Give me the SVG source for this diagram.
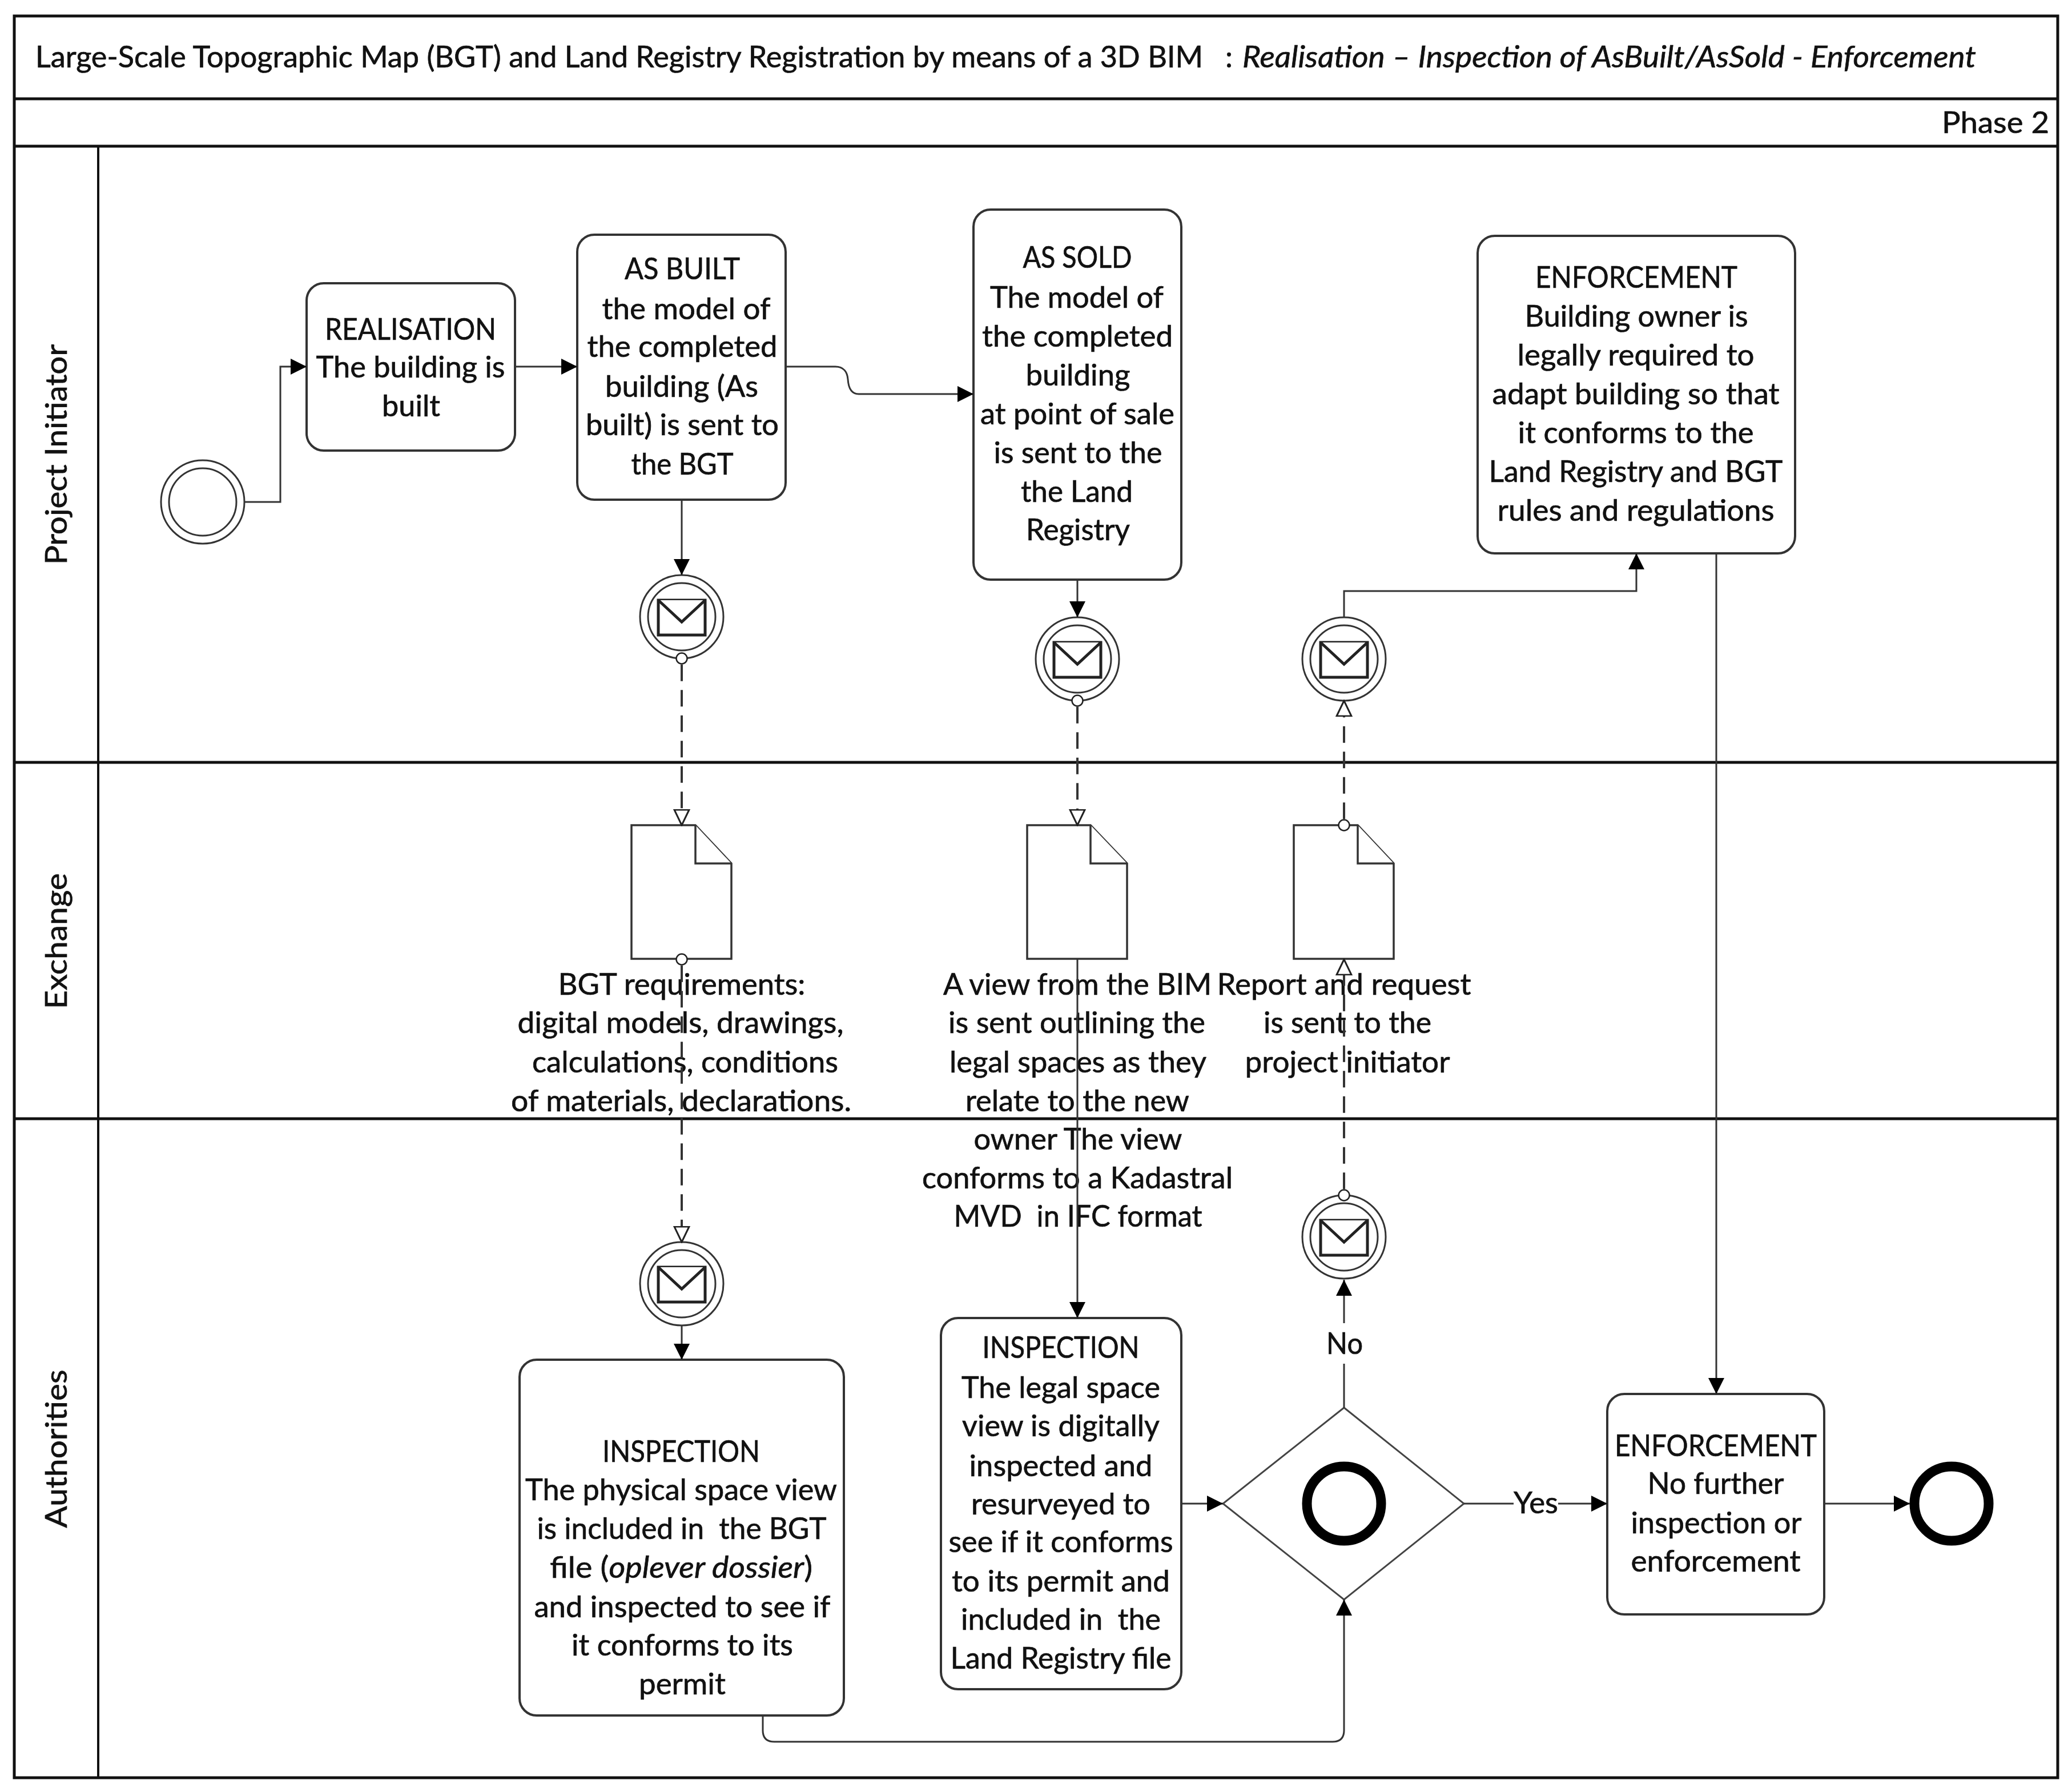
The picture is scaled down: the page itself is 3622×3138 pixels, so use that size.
<svg xmlns="http://www.w3.org/2000/svg" width="3622" height="3138" viewBox="0 0 3622 3138">
<style>
text{font-family:"Lato","Carlito","Open Sans",sans-serif;font-size:52px;fill:#111;stroke:#111;stroke-width:.7;text-anchor:middle}
.s{text-anchor:start}
.lane{fill:none;stroke:#111;stroke-width:5}
.thin{fill:none;stroke:#111;stroke-width:4}
.task{fill:#fff;stroke:#333;stroke-width:4}
.ev{fill:#fff;stroke:#333;stroke-width:3}
.end{fill:#fff;stroke:#000;stroke-width:17}
.gw{fill:#fff;stroke:#444;stroke-width:3}
.doc{fill:#fff;stroke:#333;stroke-width:3.5}
.env{fill:#fff;stroke:#222;stroke-width:5}
.c{fill:none;stroke:#333;stroke-width:3}
.d{fill:none;stroke:#333;stroke-width:4;stroke-dasharray:29 15.5;stroke-dashoffset:-10.7}
</style>
<defs>
<marker id="a" markerUnits="userSpaceOnUse" markerWidth="30" markerHeight="30" refX="28" refY="15" orient="auto"><path d="M0 1L28 15L0 29Z" fill="#000"/></marker>
<marker id="h" markerUnits="userSpaceOnUse" markerWidth="30" markerHeight="30" refX="28" refY="15" orient="auto"><path d="M1 2L28 15L1 28Z" fill="#fff" stroke="#222" stroke-width="3"/></marker>
<marker id="o" markerUnits="userSpaceOnUse" markerWidth="24" markerHeight="24" refX="12" refY="12" orient="auto"><circle cx="12" cy="12" r="9.5" fill="#fff" stroke="#222" stroke-width="2.5"/></marker>
<symbol id="env" overflow="visible"><rect class="env" x="-41" y="-29" width="82" height="61"/><path class="env" d="M-41 -29L0 9L41 -29" fill="none"/></symbol>
</defs>
<rect width="3622" height="3138" fill="#fff"/>
<g id="pool">
<rect class="lane" x="25" y="28" width="3579" height="3085"/>
<path class="lane" d="M25 173H3604M25 256H3604"/>
<path class="lane" d="M25 1335H3604M25 1959H3604"/>
<path class="thin" d="M172 256V3113"/>
<text class="s" x="62" y="118" textLength="2045" lengthAdjust="spacingAndGlyphs">Large-Scale Topographic Map (BGT) and Land Registry Registration by means of a 3D BIM</text>
<text class="s" x="2146" y="118">:</text>
<text class="s" x="2176" y="118" textLength="1285" lengthAdjust="spacingAndGlyphs" font-style="italic">Realisation – Inspection of AsBuilt/AsSold - Enforcement</text>
<text x="3495" y="233" textLength="188" lengthAdjust="spacingAndGlyphs">Phase 2</text>
<text transform="translate(117 796) rotate(-90)" textLength="386" lengthAdjust="spacingAndGlyphs">Project Initiator</text>
<text transform="translate(117 1648) rotate(-90)" textLength="238" lengthAdjust="spacingAndGlyphs">Exchange</text>
<text transform="translate(117 2537) rotate(-90)" textLength="277" lengthAdjust="spacingAndGlyphs">Authorities</text>
</g>
<g id="start"><circle class="ev" cx="355" cy="879" r="73"/><circle class="ev" cx="355" cy="879" r="59"/></g>
<g id="realisation"><rect class="task" x="537" y="496" width="365" height="293" rx="30"/>
<text x="719" y="595" textLength="300" lengthAdjust="spacingAndGlyphs">REALISATION</text>
<text x="719" y="661" textLength="331" lengthAdjust="spacingAndGlyphs">The building is</text>
<text x="720" y="729" textLength="102" lengthAdjust="spacingAndGlyphs">built</text></g>
<g id="as-built"><rect class="task" x="1011" y="411" width="365" height="464" rx="30"/>
<text x="1195" y="489" textLength="202" lengthAdjust="spacingAndGlyphs">AS BUILT</text>
<text x="1202" y="559" textLength="295" lengthAdjust="spacingAndGlyphs">the model of</text>
<text x="1195" y="625" textLength="333" lengthAdjust="spacingAndGlyphs">the completed</text>
<text x="1194" y="695" textLength="268" lengthAdjust="spacingAndGlyphs">building (As</text>
<text x="1195" y="762" textLength="338" lengthAdjust="spacingAndGlyphs">built) is sent to</text>
<text x="1195" y="831" textLength="179" lengthAdjust="spacingAndGlyphs">the BGT</text></g>
<g id="as-sold"><rect class="task" x="1705" y="367" width="364" height="648" rx="30"/>
<text x="1887" y="469" textLength="191" lengthAdjust="spacingAndGlyphs">AS SOLD</text>
<text x="1886" y="539" textLength="304" lengthAdjust="spacingAndGlyphs">The model of</text>
<text x="1887" y="607" textLength="334" lengthAdjust="spacingAndGlyphs">the completed</text>
<text x="1888" y="675" textLength="183" lengthAdjust="spacingAndGlyphs">building</text>
<text x="1887" y="743" textLength="340" lengthAdjust="spacingAndGlyphs">at point of sale</text>
<text x="1888" y="811" textLength="295" lengthAdjust="spacingAndGlyphs">is sent to the</text>
<text x="1886" y="879" textLength="196" lengthAdjust="spacingAndGlyphs">the Land</text>
<text x="1888" y="946" textLength="182" lengthAdjust="spacingAndGlyphs">Registry</text></g>
<g id="enforcement-owner"><rect class="task" x="2588" y="413" width="556" height="556" rx="30"/>
<text x="2866" y="504" textLength="354" lengthAdjust="spacingAndGlyphs">ENFORCEMENT</text>
<text x="2866" y="572" textLength="391" lengthAdjust="spacingAndGlyphs">Building owner is</text>
<text x="2865" y="640" textLength="415" lengthAdjust="spacingAndGlyphs">legally required to</text>
<text x="2865" y="708" textLength="503" lengthAdjust="spacingAndGlyphs">adapt building so that</text>
<text x="2865" y="776" textLength="413" lengthAdjust="spacingAndGlyphs">it conforms to the</text>
<text x="2865" y="844" textLength="515" lengthAdjust="spacingAndGlyphs">Land Registry and BGT</text>
<text x="2865" y="912" textLength="485" lengthAdjust="spacingAndGlyphs">rules and regulations</text></g>
<g id="msg-built"><circle class="ev" cx="1194" cy="1080" r="73"/><circle class="ev" cx="1194" cy="1080" r="59"/><use href="#env" x="1194" y="1080"/></g>
<g id="msg-sold"><circle class="ev" cx="1887" cy="1154" r="73"/><circle class="ev" cx="1887" cy="1154" r="59"/><use href="#env" x="1887" y="1154"/></g>
<g id="msg-report-in"><circle class="ev" cx="2354" cy="1154" r="73"/><circle class="ev" cx="2354" cy="1154" r="59"/><use href="#env" x="2354" y="1154"/></g>
<g id="doc-bgt"><path class="doc" d="M1106 1445H1218L1281 1512V1679H1106Z"/><path class="doc" d="M1218 1445V1512H1281"/>
<text x="1194" y="1742" textLength="433" lengthAdjust="spacingAndGlyphs">BGT requirements:</text>
<text x="1192" y="1809" textLength="571" lengthAdjust="spacingAndGlyphs">digital models, drawings,</text>
<text x="1200" y="1878" textLength="536" lengthAdjust="spacingAndGlyphs">calculations, conditions</text>
<text x="1193" y="1946" textLength="596" lengthAdjust="spacingAndGlyphs">of materials, declarations.</text></g>
<g id="doc-view"><path class="doc" d="M1799 1445H1910L1974 1512V1679H1799Z"/><path class="doc" d="M1910 1445V1512H1974"/>
<text x="1887" y="1742" textLength="470" lengthAdjust="spacingAndGlyphs">A view from the BIM</text>
<text x="1886" y="1809" textLength="450" lengthAdjust="spacingAndGlyphs">is sent outlining the</text>
<text x="1888" y="1878" textLength="450" lengthAdjust="spacingAndGlyphs">legal spaces as they</text>
<text x="1887" y="1946" textLength="392" lengthAdjust="spacingAndGlyphs">relate to the new</text>
<text x="1888" y="2013" textLength="365" lengthAdjust="spacingAndGlyphs">owner The view</text>
<text x="1887" y="2081" textLength="544" lengthAdjust="spacingAndGlyphs">conforms to a Kadastral</text>
<text x="1888" y="2148" textLength="435" lengthAdjust="spacingAndGlyphs" xml:space="preserve">MVD  in IFC format</text></g>
<g id="doc-report"><path class="doc" d="M2266 1445H2378L2441 1512V1679H2266Z"/><path class="doc" d="M2378 1445V1512H2441"/>
<text x="2354" y="1742" textLength="445" lengthAdjust="spacingAndGlyphs">Report and request</text>
<text x="2360" y="1809" textLength="294" lengthAdjust="spacingAndGlyphs">is sent to the</text>
<text x="2360" y="1878" textLength="359" lengthAdjust="spacingAndGlyphs">project initiator</text></g>
<g id="msg-auth"><circle class="ev" cx="1194" cy="2248" r="73"/><circle class="ev" cx="1194" cy="2248" r="59"/><use href="#env" x="1194" y="2248"/></g>
<g id="msg-report-out"><circle class="ev" cx="2354" cy="2166" r="73"/><circle class="ev" cx="2354" cy="2166" r="59"/><use href="#env" x="2354" y="2166"/></g>
<g id="inspection-physical"><rect class="task" x="910" y="2381" width="568" height="623" rx="30"/>
<text x="1193" y="2560" textLength="276" lengthAdjust="spacingAndGlyphs">INSPECTION</text>
<text x="1193" y="2627" textLength="546" lengthAdjust="spacingAndGlyphs">The physical space view</text>
<text x="1194" y="2695" textLength="507" lengthAdjust="spacingAndGlyphs" xml:space="preserve">is included in  the BGT</text>
<text x="1193" y="2763" textLength="460" lengthAdjust="spacingAndGlyphs">file (<tspan font-style="italic">oplever dossier</tspan>)</text>
<text x="1195" y="2832" textLength="519" lengthAdjust="spacingAndGlyphs">and inspected to see if</text>
<text x="1195" y="2899" textLength="388" lengthAdjust="spacingAndGlyphs">it conforms to its</text>
<text x="1195" y="2967" textLength="152" lengthAdjust="spacingAndGlyphs">permit</text></g>
<g id="inspection-legal"><rect class="task" x="1648" y="2308" width="421" height="650" rx="30"/>
<text x="1858" y="2378" textLength="275" lengthAdjust="spacingAndGlyphs">INSPECTION</text>
<text x="1858" y="2448" textLength="348" lengthAdjust="spacingAndGlyphs">The legal space</text>
<text x="1858" y="2515" textLength="346" lengthAdjust="spacingAndGlyphs">view is digitally</text>
<text x="1858" y="2585" textLength="321" lengthAdjust="spacingAndGlyphs">inspected and</text>
<text x="1858" y="2652" textLength="314" lengthAdjust="spacingAndGlyphs">resurveyed to</text>
<text x="1858" y="2718" textLength="393" lengthAdjust="spacingAndGlyphs">see if it conforms</text>
<text x="1858" y="2787" textLength="382" lengthAdjust="spacingAndGlyphs">to its permit and</text>
<text x="1858" y="2854" textLength="350" lengthAdjust="spacingAndGlyphs" xml:space="preserve">included in  the</text>
<text x="1858" y="2922" textLength="387" lengthAdjust="spacingAndGlyphs">Land Registry file</text></g>
<g id="gateway"><path class="gw" d="M2354 2465L2564 2633L2354 2801L2142 2633Z"/><circle class="end" cx="2354" cy="2633" r="65"/></g>
<g id="enforcement-none"><rect class="task" x="2815" y="2441" width="380" height="386" rx="30"/>
<text x="3005" y="2550" textLength="354" lengthAdjust="spacingAndGlyphs">ENFORCEMENT</text>
<text x="3005" y="2616" textLength="239" lengthAdjust="spacingAndGlyphs">No further</text>
<text x="3006" y="2685" textLength="299" lengthAdjust="spacingAndGlyphs">inspection or</text>
<text x="3005" y="2752" textLength="297" lengthAdjust="spacingAndGlyphs">enforcement</text></g>
<g id="end"><circle class="end" cx="3418" cy="2633" r="65"/></g>
<g id="connectors">
<path class="c" marker-end="url(#a)" d="M428 879H491V642H537"/>
<path class="c" marker-end="url(#a)" d="M902 642H1011"/>
<path class="c" marker-end="url(#a)" d="M1376 642H1463C1478 642 1484 652 1485 664C1486 680 1492 690 1504 690H1705"/>
<path class="c" marker-end="url(#a)" d="M1194 875V1007"/>
<path class="c" marker-end="url(#a)" d="M1887 1015V1081"/>
<path class="c" marker-end="url(#a)" d="M2354 1081V1035H2866V969"/>
<path class="c" marker-end="url(#a)" d="M3006 969V2441"/>
<path class="d" marker-start="url(#o)" marker-end="url(#h)" d="M1194 1153V1445"/>
<path class="d" marker-start="url(#o)" marker-end="url(#h)" d="M1887 1227V1445"/>
<path class="d" marker-start="url(#o)" marker-end="url(#h)" d="M2354 1445V1227"/>
<path class="d" marker-start="url(#o)" marker-end="url(#h)" d="M1194 1680V2175"/>
<path class="d" marker-start="url(#o)" marker-end="url(#h)" d="M2354 2093V1680"/>
<path class="c" marker-end="url(#a)" d="M1887 1680V2308"/>
<path class="c" marker-end="url(#a)" d="M1194 2321V2381"/>
<path class="c" marker-end="url(#a)" d="M1336 3004V3030Q1336 3050 1356 3050H2334Q2354 3050 2354 3030V2801"/>
<path class="c" marker-end="url(#a)" d="M2068 2633H2142"/>
<path class="c" d="M2354 2465V2388"/>
<path class="c" marker-end="url(#a)" d="M2354 2317V2241"/>
<path class="c" d="M2564 2633H2651"/>
<path class="c" marker-end="url(#a)" d="M2729 2633H2815"/>
<path class="c" marker-end="url(#a)" d="M3195 2633H3345"/>
<text x="2355" y="2371" textLength="64" lengthAdjust="spacingAndGlyphs">No</text>
<text x="2690" y="2650" textLength="78" lengthAdjust="spacingAndGlyphs">Yes</text>
</g>
</svg>
